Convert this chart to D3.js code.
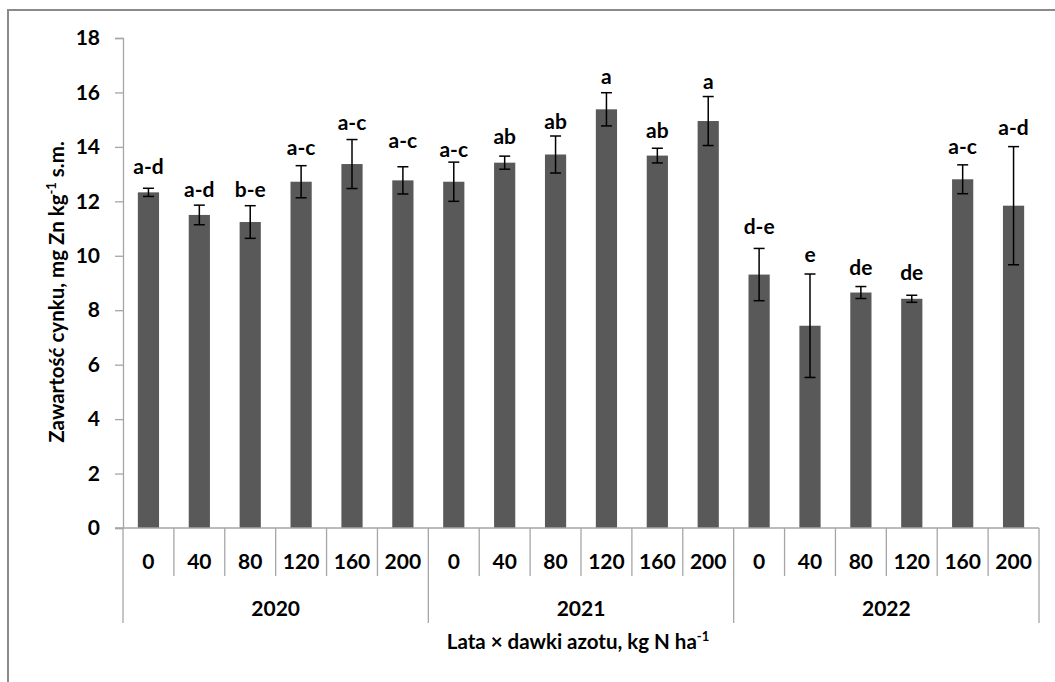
<!DOCTYPE html>
<html>
<head>
<meta charset="utf-8">
<script src="https://cdn.jsdelivr.net/npm/d3@7/dist/d3.min.js"></script>
<style>
  html, body { margin: 0; padding: 0; background: #fff; }
  svg { display: block; }
  text { font-family: Lato, "Open Sans", sans-serif; font-weight: bold; fill: #000; }
</style>
</head>
<body>
<svg id="chart" width="1055" height="682"></svg>
<script>
// Zinc content by year and nitrogen dose
const years = ["2020", "2021", "2022"];
const doses = ["0", "40", "80", "120", "160", "200"];
const means = [12.33, 11.50, 11.24, 12.72, 13.37, 12.77,
               12.72, 13.42, 13.72, 15.38, 13.68, 14.95,
               9.31, 7.43, 8.65, 8.42, 12.81, 11.84];
const errors = [0.15, 0.36, 0.60, 0.59, 0.90, 0.50,
                0.72, 0.24, 0.68, 0.61, 0.27, 0.90,
                0.96, 1.90, 0.22, 0.13, 0.53, 2.17];
const letters = ["a-d", "a-d", "b-e", "a-c", "a-c", "a-c",
                 "a-c", "ab", "ab", "a", "ab", "a",
                 "d-e", "e", "de", "de", "a-c", "a-d"];
const yTicks = [0, 2, 4, 6, 8, 10, 12, 14, 16, 18];

// gap (px) between the top of each error bar and its letter baseline
const letterGap = [14, 8, 9, 11, 10, 19, 5, 12, 7, 9, 10, 8, 14, 12, 12, 15, 11, 12];

const svg = d3.select("#chart");
const plot = { left: 123, right: 1039, top: 38, bottom: 528 };
const labelSize = 21;
const titleSize = 20.5;

// outer chart frame
svg.append("rect")
  .attr("x", 8).attr("y", 10).attr("width", 1100).attr("height", 700)
  .attr("fill", "none").attr("stroke", "#8a8a8a").attr("stroke-width", 2);

const cats = [];
years.forEach(y => doses.forEach(d => cats.push(y + "|" + d)));
const rows = cats.map((c, i) => ({
  key: c, year: c.split("|")[0], dose: c.split("|")[1],
  mean: means[i], err: errors[i], letter: letters[i], gap: letterGap[i]
}));

const x = d3.scaleBand().domain(cats).range([plot.left, plot.right]).padding(0);
const y = d3.scaleLinear().domain([0, 18]).range([plot.bottom, plot.top]);
const barW = x.bandwidth() / 2.4;
const axisColor = "#a6a6a6";

// y axis
const yAxis = svg.append("g")
  .attr("transform", `translate(${plot.left},0)`)
  .call(d3.axisLeft(y).tickValues(yTicks).tickSize(8).tickPadding(15).tickFormat(d3.format("d")));
yAxis.select(".domain").attr("stroke", axisColor).attr("stroke-width", 1.3);
yAxis.selectAll(".tick line").attr("stroke", axisColor).attr("stroke-width", 1.3);
yAxis.selectAll(".tick text").attr("font-size", labelSize).attr("fill", "#000")
  .attr("font-family", "Lato, 'Open Sans', sans-serif").attr("font-weight", "bold");

// bars
svg.append("g").selectAll("rect").data(rows).join("rect")
  .attr("x", d => x(d.key) + (x.bandwidth() - barW) / 2)
  .attr("y", d => y(d.mean))
  .attr("width", barW)
  .attr("height", d => y(0) - y(d.mean))
  .attr("fill", "#595959");

// error bars
const eb = svg.append("g").attr("stroke", "#000").attr("stroke-width", 1.5);
rows.forEach(d => {
  const cx = x(d.key) + x.bandwidth() / 2;
  const hi = y(d.mean + d.err), lo = y(d.mean - d.err);
  eb.append("line").attr("x1", cx).attr("x2", cx).attr("y1", hi).attr("y2", lo);
  eb.append("line").attr("x1", cx - 5.5).attr("x2", cx + 5.5).attr("y1", hi).attr("y2", hi);
  eb.append("line").attr("x1", cx - 5.5).attr("x2", cx + 5.5).attr("y1", lo).attr("y2", lo);
});

// significance letters
svg.append("g").selectAll("text").data(rows).join("text")
  .attr("x", d => x(d.key) + x.bandwidth() / 2)
  .attr("y", d => y(d.mean + d.err) - d.gap)
  .attr("text-anchor", "middle")
  .attr("font-size", labelSize)
  .text(d => d.letter);

// category axis: baseline, dose dividers, year dividers
const xa = svg.append("g").attr("stroke", axisColor).attr("stroke-width", 1.3);
xa.append("line").attr("x1", plot.left - 8).attr("x2", plot.right)
  .attr("y1", plot.bottom).attr("y2", plot.bottom);
cats.forEach((c, i) => {
  const bx = x(c);
  const isYearEdge = i % doses.length === 0;
  xa.append("line").attr("x1", bx).attr("x2", bx)
    .attr("y1", plot.bottom).attr("y2", isYearEdge ? 623 : 576);
});
xa.append("line").attr("x1", plot.right).attr("x2", plot.right)
  .attr("y1", plot.bottom).attr("y2", 623);

svg.append("g").selectAll("text").data(rows).join("text")
  .attr("x", d => x(d.key) + x.bandwidth() / 2)
  .attr("y", 569)
  .attr("text-anchor", "middle")
  .attr("font-size", labelSize)
  .text(d => d.dose);

svg.append("g").selectAll("text").data(years).join("text")
  .attr("x", yr => {
    const first = x(yr + "|" + doses[0]);
    const last = x(yr + "|" + doses[doses.length - 1]) + x.bandwidth();
    return (first + last) / 2;
  })
  .attr("y", 616)
  .attr("text-anchor", "middle")
  .attr("font-size", labelSize)
  .text(yr => yr);

// axis titles
const xt = svg.append("text")
  .attr("x", 578).attr("y", 649)
  .attr("text-anchor", "middle").attr("font-size", titleSize);
xt.append("tspan").text("Lata × dawki azotu, kg N ha");
xt.append("tspan").attr("dy", -8).attr("font-size", 13).text("-1");

const yt = svg.append("text")
  .attr("transform", "translate(64,292) rotate(-90)")
  .attr("text-anchor", "middle").attr("font-size", titleSize);
yt.append("tspan").text("Zawartość cynku, mg Zn kg");
yt.append("tspan").attr("dy", -8).attr("font-size", 13).text("-1");
yt.append("tspan").attr("dy", 8).text(" s.m.");
</script>
</body>
</html>
